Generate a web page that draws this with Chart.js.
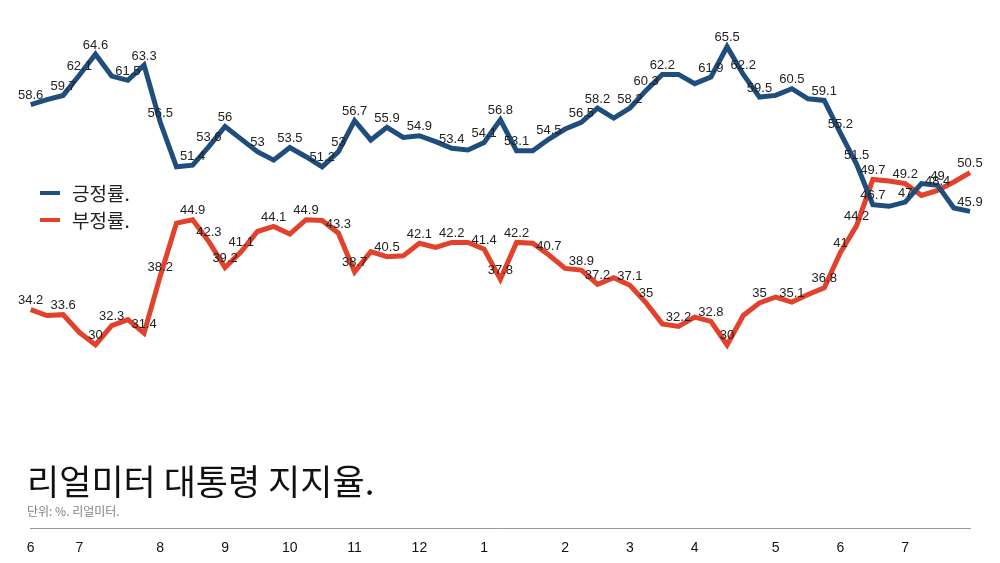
<!DOCTYPE html>
<html>
<head>
<meta charset="utf-8">
<script src="https://cdn.jsdelivr.net/npm/chart.js@4.4.1/dist/chart.umd.min.js"></script>
<style>
html,body{margin:0;padding:0;background:#fff;width:1000px;height:563px;overflow:hidden;}
#wrap{position:relative;width:1000px;height:563px;}
#c{position:absolute;left:0;top:0;}
.title{position:absolute;left:27px;top:458px;font:400 35px "Noto Sans CJK KR",sans-serif;color:#111;line-height:44px;white-space:nowrap;}
.sub{position:absolute;left:27px;top:503px;font:400 12px "Noto Sans CJK KR",sans-serif;color:#808080;line-height:16px;white-space:nowrap;}
.legend{position:absolute;left:40px;top:179px;font:400 19px "Noto Sans CJK KR",sans-serif;color:#222;}
.legend .item{display:flex;align-items:center;height:27px;}
.legend .sw{width:20px;height:4px;margin-right:12px;}
</style>
</head>
<body>
<div id="wrap">
<canvas id="c" width="1000" height="563"></canvas>
<div class="legend">
  <div class="item"><span class="sw" style="background:#1f4e7c"></span><span>긍정률.</span></div>
  <div class="item"><span class="sw" style="background:#e2412b"></span><span>부정률.</span></div>
</div>
<div class="title">리얼미터 대통령 지지율.</div>
<div class="sub">단위: %. 리얼미터.</div>
</div>
<script>
// weekly categories (month/week)
const categories = [
 '6/1','6/2','6/3',
 '7/1','7/2','7/3','7/4','7/5',
 '8/1','8/2','8/3','8/4',
 '9/1','9/2','9/3','9/4',
 '10/1','10/2','10/3','10/4',
 '11/1','11/2','11/3','11/4',
 '12/1','12/2','12/3','12/4',
 '1/1','1/2','1/3','1/4','1/5',
 '2/1','2/2','2/3','2/4',
 '3/1','3/2','3/3','3/4',
 '4/1','4/2','4/3','4/4','4/5',
 '5/1','5/2','5/3','5/4',
 '6/1','6/2','6/3','6/4',
 '7/1','7/2','7/3','7/4','7/5'
];

// 긍정률
const approve = [58.6, 59.2, 59.7, 62.1, 64.6, 62.0, 61.5, 63.3, 56.5, 51.2,
 51.4, 53.6, 56, 54.5, 53, 52.0, 53.5, 52.4, 51.2, 53,
 56.7, 54.4, 55.9, 54.7, 54.9, 54.2, 53.4, 53.2, 54.1, 56.8,
 53.1, 53.1, 54.5, 55.7, 56.5, 58.2, 57.0, 58.2, 60.3, 62.2,
 62.2, 61.1, 61.9, 65.5, 62.2, 59.5, 59.7, 60.5, 59.3, 59.1,
 55.2, 51.5, 46.7, 46.5, 47, 49.2, 49, 46.3, 45.9];

// 부정률
const disapprove = [34.2, 33.5, 33.6, 31.5, 30, 32.3, 33.0, 31.4, 38.2, 44.5,
 44.9, 42.3, 39.2, 41.1, 43.5, 44.1, 43.2, 44.9, 44.8, 43.3,
 38.7, 41.1, 40.5, 40.6, 42.1, 41.6, 42.2, 42.2, 41.4, 37.8,
 42.2, 42.1, 40.7, 39.1, 38.9, 37.2, 38.0, 37.1, 35, 32.5,
 32.2, 33.3, 32.8, 30, 33.5, 35, 35.7, 35.1, 36.0, 36.8,
 41, 44.2, 49.7, 49.5, 49.2, 47.8, 48.4, 49.4, 50.5];

// which points carry a value label
const approveLabeled = [0,2,3,4,6,7,8,10,11,12,14,16,18,19,20,22,24,26,28,29,30,32,34,35,37,38,39,42,43,44,45,47,49,50,51,52,54,56,58];
const disapproveLabeled = [0,2,4,5,7,8,10,11,12,13,15,17,19,20,22,24,26,28,29,30,32,34,35,37,38,40,42,43,45,47,49,50,51,52,54,56,58];

const valueLabels = {
  id: 'valueLabels',
  afterDatasetsDraw(chart) {
    const ctx = chart.ctx;
    ctx.save();
    ctx.font = '13px "Liberation Sans", Arial, sans-serif';
    ctx.fillStyle = '#222';
    ctx.textAlign = 'center';
    ctx.textBaseline = 'middle';
    chart.data.datasets.forEach((ds, di) => {
      const meta = chart.getDatasetMeta(di);
      ds.labelIdx.forEach(i => {
        const p = meta.data[i];
        ctx.fillText(String(ds.data[i]), p.x, p.y - 9);
      });
    });
    ctx.restore();
  }
};

new Chart(document.getElementById('c'), {
  type: 'line',
  data: {
    labels: categories,
    datasets: [
      { label: '긍정률.', data: approve, labelIdx: approveLabeled,
        borderColor: '#1f4e7c', borderWidth: 5, pointRadius: 0, tension: 0,
        borderJoinStyle: 'miter', fill: false },
      { label: '부정률.', data: disapprove, labelIdx: disapproveLabeled,
        borderColor: '#e2412b', borderWidth: 5, pointRadius: 0, tension: 0,
        borderJoinStyle: 'miter', fill: false }
    ]
  },
  options: {
    responsive: false,
    animation: false,
    layout: { padding: { left: 30.7, right: 30, top: 10, bottom: 0 } },
    plugins: { legend: { display: false }, tooltip: { enabled: false } },
    scales: {
      x: {
        type: 'category',
        offset: false,
        grid: { display: false, drawTicks: false },
        border: { display: true, color: '#999', width: 1 },
        afterFit: function(scale) { scale.height = 35; },
        ticks: {
          autoSkip: false, maxRotation: 0, minRotation: 0, padding: 12,
          color: '#111',
          font: { size: 14, family: '"Liberation Sans", Arial, sans-serif' },
          callback: function(value, index) {
            const lab = categories[index];
            return lab.endsWith('/1') ? lab.split('/')[0] : '';
          }
        }
      },
      y: { display: false, min: 8.2, max: 69.87 }
    }
  },
  plugins: [valueLabels]
});
</script>
</body>
</html>
